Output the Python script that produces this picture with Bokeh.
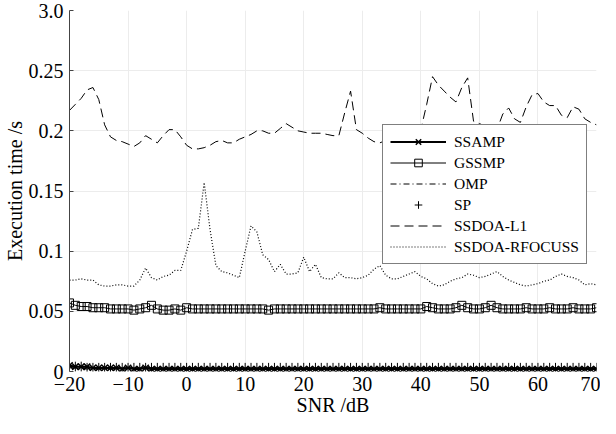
import math
from bokeh.plotting import figure
from bokeh.models import Range1d, FixedTicker, CustomJSTickFormatter, Legend, LegendItem
from bokeh.embed import file_html
from bokeh.resources import INLINE

snr = list(range(-20, 71))

ssamp = [0.005, 0.004, 0.004, 0.004, 0.003, 0.003, 0.003, 0.003, 0.003, 0.002,
         0.003, 0.002, 0.002, 0.003, 0.002, 0.002, 0.002, 0.002, 0.002, 0.002,
         0.002, 0.002, 0.002, 0.002, 0.002, 0.002, 0.002, 0.002, 0.002, 0.002,
         0.002, 0.002, 0.002, 0.002, 0.002, 0.002, 0.002, 0.002, 0.002, 0.002,
         0.002, 0.002, 0.002, 0.002, 0.002, 0.002, 0.002, 0.002, 0.002, 0.002,
         0.002, 0.002, 0.002, 0.002, 0.002, 0.002, 0.002, 0.002, 0.002, 0.002,
         0.002, 0.002, 0.002, 0.002, 0.002, 0.002, 0.002, 0.002, 0.002, 0.002,
         0.002, 0.002, 0.002, 0.002, 0.002, 0.002, 0.002, 0.002, 0.002, 0.002,
         0.002, 0.002, 0.002, 0.002, 0.002, 0.002, 0.002, 0.002, 0.002, 0.002,
         0.002]

gssmp = [0.057, 0.055, 0.054, 0.054, 0.053, 0.053, 0.053, 0.052, 0.052, 0.052,
         0.052, 0.051, 0.052, 0.053, 0.055, 0.052, 0.051, 0.051, 0.052, 0.051,
         0.053, 0.052, 0.052, 0.052, 0.052, 0.052, 0.052, 0.052, 0.052, 0.052,
         0.052, 0.052, 0.052, 0.052, 0.051, 0.052, 0.052, 0.052, 0.052, 0.052,
         0.052, 0.052, 0.052, 0.052, 0.052, 0.052, 0.052, 0.052, 0.052, 0.052,
         0.052, 0.052, 0.052, 0.053, 0.052, 0.052, 0.052, 0.052, 0.052, 0.052,
         0.052, 0.054, 0.053, 0.052, 0.052, 0.052, 0.053, 0.055, 0.053, 0.052,
         0.052, 0.053, 0.055, 0.053, 0.052, 0.052, 0.052, 0.052, 0.053, 0.052,
         0.052, 0.052, 0.053, 0.052, 0.052, 0.052, 0.053, 0.052, 0.052, 0.052,
         0.053]

omp = [0.003, 0.003, 0.003, 0.002, 0.002, 0.002, 0.002, 0.002, 0.002, 0.002,
       0.002, 0.002, 0.002, 0.002, 0.002, 0.002, 0.002, 0.002, 0.002, 0.002,
       0.002, 0.002, 0.002, 0.002, 0.002, 0.002, 0.002, 0.002, 0.002, 0.002,
       0.002, 0.002, 0.002, 0.002, 0.002, 0.002, 0.002, 0.002, 0.002, 0.002,
       0.002, 0.002, 0.002, 0.002, 0.002, 0.002, 0.002, 0.002, 0.002, 0.002,
       0.002, 0.002, 0.002, 0.002, 0.002, 0.002, 0.002, 0.002, 0.002, 0.002,
       0.002, 0.002, 0.002, 0.002, 0.002, 0.002, 0.002, 0.002, 0.002, 0.002,
       0.002, 0.002, 0.002, 0.002, 0.002, 0.002, 0.002, 0.002, 0.002, 0.002,
       0.002, 0.002, 0.002, 0.002, 0.002, 0.002, 0.002, 0.002, 0.002, 0.002,
       0.002]

sp = [0.004, 0.004, 0.004, 0.003, 0.003, 0.003, 0.003, 0.003, 0.003, 0.003,
      0.003, 0.003, 0.003, 0.003, 0.003, 0.003, 0.003, 0.003, 0.003, 0.003,
      0.003, 0.003, 0.003, 0.003, 0.003, 0.003, 0.003, 0.003, 0.003, 0.003,
      0.003, 0.003, 0.003, 0.003, 0.003, 0.003, 0.003, 0.003, 0.003, 0.003,
      0.003, 0.003, 0.003, 0.003, 0.003, 0.003, 0.003, 0.003, 0.003, 0.003,
      0.003, 0.003, 0.003, 0.003, 0.003, 0.003, 0.003, 0.003, 0.003, 0.003,
      0.003, 0.003, 0.003, 0.003, 0.003, 0.003, 0.003, 0.003, 0.003, 0.003,
      0.003, 0.003, 0.003, 0.003, 0.003, 0.003, 0.003, 0.003, 0.003, 0.003,
      0.003, 0.003, 0.003, 0.003, 0.003, 0.003, 0.003, 0.003, 0.003, 0.003,
      0.003]

ssdoa_l1 = [0.217, 0.222, 0.227, 0.234, 0.236, 0.226, 0.205, 0.195, 0.192, 0.191,
            0.189, 0.187, 0.190, 0.196, 0.193, 0.190, 0.196, 0.201, 0.201, 0.195,
            0.188, 0.185, 0.185, 0.186, 0.188, 0.191, 0.192, 0.190, 0.190, 0.193,
            0.195, 0.197, 0.200, 0.200, 0.198, 0.198, 0.202, 0.206, 0.203, 0.200,
            0.199, 0.198, 0.198, 0.198, 0.197, 0.196, 0.196, 0.215, 0.233, 0.201,
            0.198, 0.194, 0.191, 0.190, 0.192, 0.190, 0.193, 0.195, 0.196, 0.198,
            0.201, 0.222, 0.245, 0.238, 0.233, 0.228, 0.224, 0.236, 0.244, 0.208,
            0.206, 0.204, 0.202, 0.201, 0.214, 0.219, 0.210, 0.207, 0.220, 0.230,
            0.231, 0.224, 0.221, 0.221, 0.213, 0.211, 0.220, 0.218, 0.210, 0.207,
            0.205]

ssdoa_rfocuss = [0.076, 0.076, 0.077, 0.076, 0.076, 0.072, 0.071, 0.071, 0.072, 0.072,
                 0.071, 0.071, 0.076, 0.086, 0.078, 0.076, 0.079, 0.080, 0.084, 0.084,
                 0.100, 0.118, 0.119, 0.157, 0.118, 0.088, 0.083, 0.082, 0.080, 0.078,
                 0.100, 0.121, 0.116, 0.097, 0.093, 0.083, 0.089, 0.081, 0.081, 0.082,
                 0.095, 0.083, 0.089, 0.078, 0.077, 0.077, 0.082, 0.078, 0.078, 0.077,
                 0.078, 0.080, 0.085, 0.088, 0.080, 0.077, 0.077, 0.079, 0.081, 0.083,
                 0.079, 0.077, 0.073, 0.071, 0.072, 0.075, 0.077, 0.078, 0.081, 0.080,
                 0.078, 0.079, 0.081, 0.083, 0.079, 0.076, 0.074, 0.072, 0.071, 0.072,
                 0.073, 0.075, 0.076, 0.079, 0.081, 0.079, 0.078, 0.076, 0.072, 0.073,
                 0.072]

x_ticks = [-20, -10, 0, 10, 20, 30, 40, 50, 60, 70]
y_ticks = [0, 0.05, 0.1, 0.15, 0.2, 0.25, 0.3]

FONT = "'Liberation Serif'"

p = figure(width=600, height=418, output_backend="svg", toolbar_location=None,
           x_range=Range1d(-20, 70), y_range=Range1d(0, 0.3),
           min_border_left=62, min_border_right=4, min_border_top=10, min_border_bottom=46)
p.outline_line_color = None
p.background_fill_color = "white"

# axes
p.xaxis.ticker = FixedTicker(ticks=x_ticks)
p.yaxis.ticker = FixedTicker(ticks=y_ticks)
p.yaxis.formatter = CustomJSTickFormatter(code="""
    if (tick > 0.29) { return "3.0"; }
    if (tick == 0) { return "0"; }
    return String(Math.round(tick * 100) / 100);
""")
for ax in (p.xaxis[0], p.yaxis[0]):
    ax.major_label_text_font = FONT
    ax.major_label_text_font_size = "20px"
    ax.major_label_text_font_style = "normal"
    ax.major_label_text_color = "black"
    ax.minor_tick_line_color = None
    ax.axis_label_text_font = FONT
    ax.axis_label_text_font_size = "20px"
    ax.axis_label_text_font_style = "normal"
    ax.axis_label_text_color = "black"
    ax.axis_label_standoff = 0
p.xaxis.axis_label = "SNR /dB"
p.yaxis.axis_label = "Execution time /s"
p.xaxis.axis_line_color = None
p.xaxis.major_tick_line_color = None
p.xaxis.major_tick_out = 0
p.xaxis.major_tick_in = 0
p.xaxis.major_label_standoff = 5
p.yaxis.axis_line_color = "#444444"
p.yaxis.major_tick_line_color = "#444444"
p.yaxis.major_tick_in = 4
p.yaxis.major_tick_out = 0
p.yaxis.major_label_standoff = 6

p.xgrid.ticker = FixedTicker(ticks=x_ticks)
p.ygrid.ticker = FixedTicker(ticks=y_ticks)
p.grid.grid_line_color = "#ececec"
p.grid.grid_line_width = 1

# series
r_l1 = p.line(snr, ssdoa_l1, line_color="black", line_width=1, line_dash="9 5")
r_rf = p.line(snr, ssdoa_rfocuss, line_color="black", line_width=1.2, line_dash="1 2")
r_g_line = p.line(snr, gssmp, line_color="black", line_width=1)
r_g_mark = p.scatter(snr, gssmp, marker="square", size=8, fill_color=None,
                     line_color="black", line_width=1)
r_omp = p.line(snr, omp, line_color="black", line_width=1, line_dash="6 3 1 3")
r_sp = p.scatter(snr, sp, marker="cross", size=10, line_color="black", line_width=1)
r_s_line = p.line(snr, ssamp, line_color="black", line_width=2)
r_s_mark = p.scatter(snr, ssamp, marker="x", size=9, line_color="black", line_width=1.5)

legend = Legend(items=[
    LegendItem(label="SSAMP", renderers=[r_s_line, r_s_mark]),
    LegendItem(label="GSSMP", renderers=[r_g_line, r_g_mark]),
    LegendItem(label="OMP", renderers=[r_omp]),
    LegendItem(label="SP", renderers=[r_sp]),
    LegendItem(label="SSDOA-L1", renderers=[r_l1]),
    LegendItem(label="SSDOA-RFOCUSS", renderers=[r_rf]),
], location=(313, 107))
legend.label_text_font = FONT
legend.label_text_font_size = "15.5px"
legend.label_text_font_style = "normal"
legend.label_text_color = "black"
legend.glyph_width = 56
legend.glyph_height = 19
legend.label_height = 19
legend.label_standoff = 8
legend.spacing = 2
legend.padding = 7
legend.margin = 0
legend.border_line_color = "black"
legend.border_line_width = 1
legend.background_fill_color = "white"
legend.background_fill_alpha = 1
p.add_layout(legend)

open("out.html", "w").write(file_html(p, INLINE))
